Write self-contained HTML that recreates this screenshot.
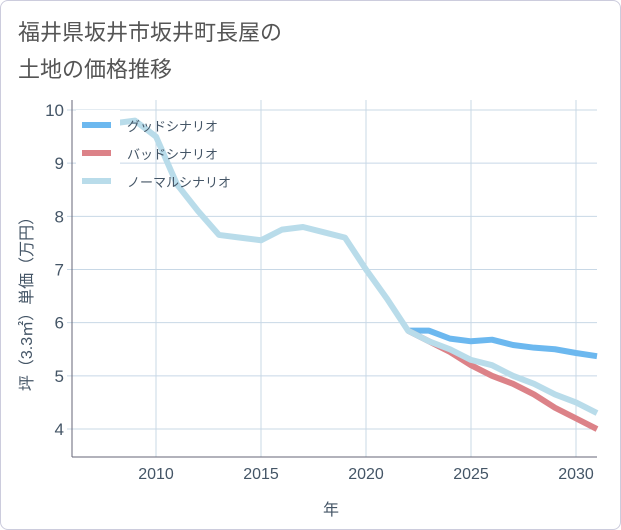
<!DOCTYPE html>
<html><head><meta charset="utf-8"><style>
body{margin:0;background:#fff;font-family:"Liberation Sans","Noto Sans CJK JP",sans-serif;}
#wrap{position:relative;width:619px;height:528px;border:1px solid #ccd;border-radius:8px;background:#fff;overflow:hidden}
</style></head><body>
<div id="wrap">
<svg id="c" width="621" height="530" style="position:absolute;left:-1px;top:-1px" font-family="Liberation Sans,Noto Sans CJK JP,sans-serif">
<text x="18" y="40" font-size="22" fill="#555">福井県坂井市坂井町長屋の</text>
<text x="18" y="77" font-size="22" fill="#555">土地の価格推移</text>
<rect x="72" y="100" width="525" height="357" fill="#fff"/>
<g id="grid"></g><g id="lines"></g><g id="legend"></g>
<text x="331" y="515" font-size="16" fill="#445566" text-anchor="middle">年</text>
<text transform="translate(32,300) rotate(-90)" font-size="16" fill="#445566" text-anchor="middle">坪（3.3㎡）単価（万円）</text>
</svg></div>
<script>
const xTicks=[2010,2015,2020,2025,2030];
const yTicks=[4,5,6,7,8,9,10];
const normalYears=[2008,2009,2010,2011,2012,2013,2014,2015,2016,2017,2018,2019,2020,2021,2022,2023,2024,2025,2026,2027,2028,2029,2030,2031];
const normalVals=[9.75,9.8,9.5,8.6,8.1,7.65,7.6,7.55,7.75,7.8,7.7,7.6,7.0,6.45,5.85,5.65,5.5,5.3,5.2,5.0,4.85,4.65,4.5,4.3];
const forecastYears=[2022,2023,2024,2025,2026,2027,2028,2029,2030,2031];
const goodVals=[5.85,5.85,5.7,5.65,5.68,5.58,5.53,5.5,5.43,5.37];
const badVals=[5.85,5.65,5.45,5.2,5.0,4.85,4.65,4.4,4.2,4.0];
const NS="http://www.w3.org/2000/svg";
const X=y=>72+(y-2006)*21, Y=v=>110+(10-v)*53.17;
function mk(t,a,p){const e=document.createElementNS(NS,t);for(const k in a)e.setAttribute(k,a[k]);p.appendChild(e);return e;}
const g=document.getElementById('grid');
xTicks.forEach(t=>{const l=mk('line',{x1:X(t),x2:X(t),y1:100,y2:457,stroke:'#c8d8e6'},g);


const tx=mk('text',{x:X(t),y:479,'font-size':16,fill:'#445566','text-anchor':'middle'},g);tx.textContent=t;

});
yTicks.forEach(t=>{const l=mk('line',{x1:67,x2:597,y1:Y(t),y2:Y(t),stroke:'#c8d8e6'},g);


const tx=mk('text',{x:64,y:Y(t)+6,'font-size':17,fill:'#445566','text-anchor':'end'},g);tx.textContent=t;

});
mk('line',{x1:72,x2:72,y1:100,y2:457,stroke:'#667'},g);
mk('line',{x1:72,x2:597,y1:457,y2:457,stroke:'#667'},g);
const L=document.getElementById('lines');
function series(xs,vs,col,name){const p=mk('polyline',{points:xs.map((x,i)=>X(x)+','+Y(vs[i])).join(' '),fill:'none',stroke:col,'stroke-width':6,'stroke-linejoin':'round'},L);

}
series(forecastYears,goodVals,'#6cb8ef','good-scenario-line');
series(forecastYears,badVals,'#dc8288','bad-scenario-line');
series(normalYears,normalVals,'#b9dcea','normal-scenario-line');
const lg=document.getElementById('legend');
const bx=mk('rect',{x:76,y:110,width:44,height:86,fill:'#fff'},lg);


[['グッドシナリオ','#6cb8ef'],['バッドシナリオ','#dc8288'],['ノーマルシナリオ','#b9dcea']].forEach((d,i)=>{
const y=125+i*28;
const r=mk('rect',{x:82,y:y-3,width:29,height:6,fill:d[1]},lg);


const t=mk('text',{x:127,y:y+6,'font-size':13,fill:'#445566'},lg);t.textContent=d[0];

});
</script>
</body></html>
